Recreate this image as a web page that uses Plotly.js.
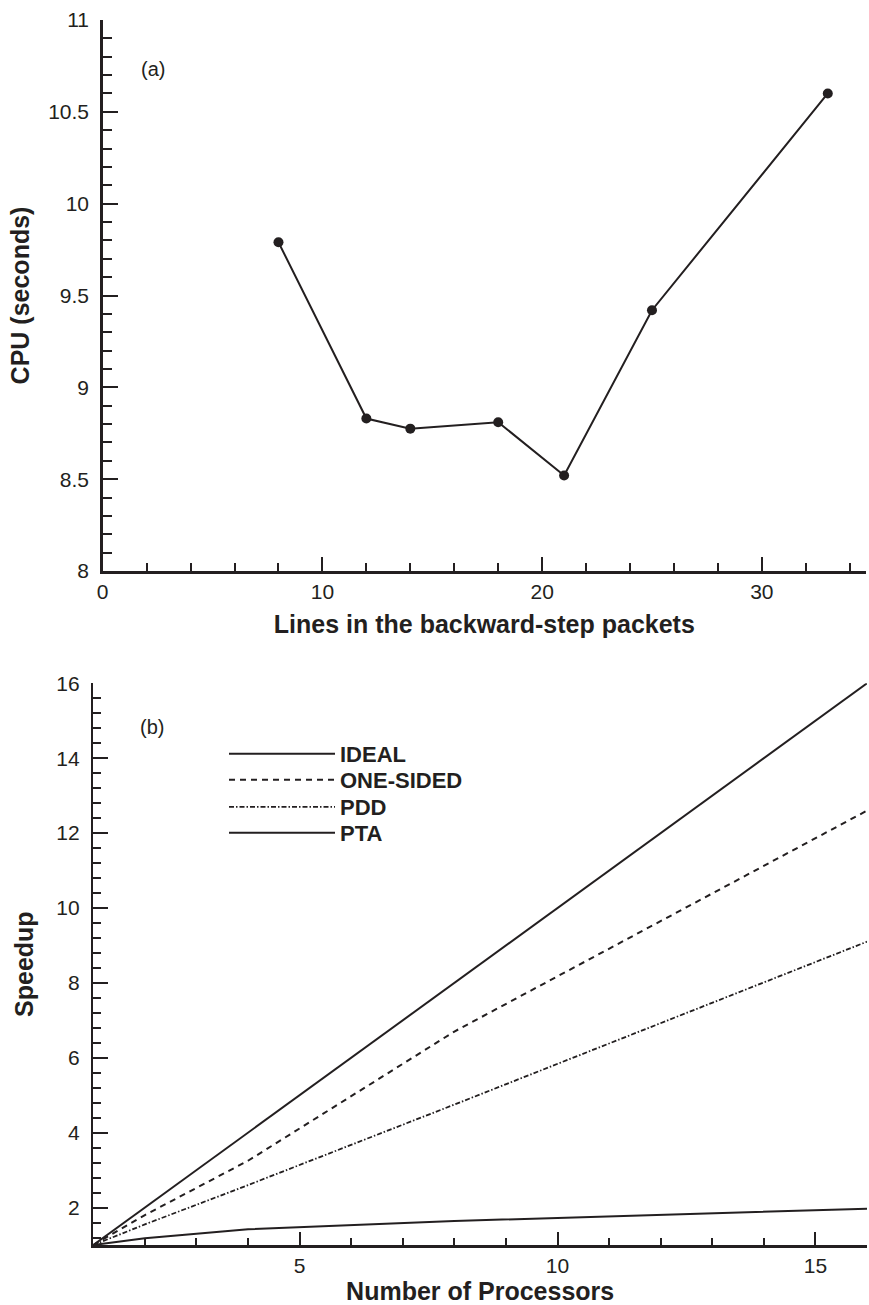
<!DOCTYPE html>
<html><head><meta charset="utf-8">
<script src="https://cdn.plot.ly/plotly-3.0.1.min.js"></script>
<style>html,body{margin:0;padding:0;background:#fff}#chart{width:869px;height:1305px}</style>
</head><body><div id="chart"></div>
<script>
// ---- Panel (a) data ----
const packetLines = [8, 12, 14, 18, 21, 25, 33];
const cpuSeconds  = [9.79, 8.83, 8.775, 8.81, 8.52, 9.42, 10.60];

// ---- Panel (b) data ----
const processors = [1, 2, 4, 8, 16];
const ideal      = [1, 2, 4, 8, 16];
const oneSided   = [1, 1.8, 3.25, 6.7, 12.6];
const pdd        = [1, 1.55, 2.6, 4.75, 9.1];
const pta        = [1, 1.18, 1.42, 1.64, 1.97];
const seriesNames = ['IDEAL', 'ONE-SIDED', 'PDD', 'PTA'];

// ---- Tick labels ----
const aXTicks = [0, 10, 20, 30];
const aXTickText = ['0', '10', '20', '30'];
const aYTicks = [8, 8.5, 9, 9.5, 10, 10.5, 11];
const aYTickText = ['8', '8.5', '9', '9.5', '10', '10.5', '11'];
const bXTicks = [5, 10, 15];
const bXTickText = ['5', '10', '15'];
const bYTicks = [2, 4, 6, 8, 10, 12, 14, 16];
const bYTickText = ['2', '4', '6', '8', '10', '12', '14', '16'];

const INK = '#231f20';
const FAM = "'Liberation Sans', Arial, Helvetica, sans-serif";
const W = 869, H = 1305;

function axis(extra, minorDtick, majLen, minLen) {
  return Object.assign({
    showline: true, linewidth: 2.5, linecolor: INK,
    ticks: 'inside', ticklen: majLen, tickwidth: 2, tickcolor: INK,
    showgrid: false, zeroline: false, mirror: false,
    tickmode: 'array', automargin: false,
    tickfont: {family: FAM, size: 21, color: INK},
    minor: {ticks: 'inside', ticklen: minLen, tickwidth: 2, tickcolor: INK, dtick: minorDtick, tick0: 0, showgrid: false}
  }, extra);
}

const traces = [
  {x: packetLines, y: cpuSeconds, xaxis: 'x', yaxis: 'y', mode: 'lines+markers',
   line: {color: INK, width: 2}, marker: {color: INK, size: 10}, showlegend: false},
  {x: processors, y: ideal, xaxis: 'x2', yaxis: 'y2', mode: 'lines', name: seriesNames[0], legend: 'legend',
   line: {color: INK, width: 2, dash: 'solid'}},
  {x: processors, y: oneSided, xaxis: 'x2', yaxis: 'y2', mode: 'lines', name: seriesNames[1], legend: 'legend2',
   line: {color: INK, width: 2, dash: '6px,5px'}},
  {x: processors, y: pdd, xaxis: 'x2', yaxis: 'y2', mode: 'lines', name: seriesNames[2], legend: 'legend3',
   line: {color: INK, width: 1.8, dash: '5px,2px,1.5px,2px'}},
  {x: processors, y: pta, xaxis: 'x2', yaxis: 'y2', mode: 'lines', name: seriesNames[3], legend: 'legend4',
   line: {color: INK, width: 2, dash: 'solid'}}
];

const titleFont = {family: FAM, size: 25, color: INK, weight: 700};

function legendAt(rowCenterPx) {
  return {
    x: 224 / W, y: (H - (rowCenterPx - 20)) / H, xanchor: 'left', yanchor: 'top',
    bgcolor: 'rgba(0,0,0,0)', borderwidth: 0,
    font: {family: FAM, size: 22, color: INK, weight: 700},
    itemwidth: 106
  };
}

const layout = {
  width: W, height: H,
  margin: {l: 0, r: 0, t: 0, b: 0},
  paper_bgcolor: '#fff', plot_bgcolor: '#fff',
  font: {family: FAM, color: INK},
  xaxis: axis({domain: [102.7 / W, 866 / W], range: [0, 34.74], anchor: 'y',
    tickvals: aXTicks, ticktext: aXTickText,
    title: {text: 'Lines in the backward-step packets', font: titleFont, standoff: 14}}, 2, 14, 8),
  yaxis: axis({domain: [(H - 571) / H, (H - 20) / H], range: [8, 11], anchor: 'x',
    tickvals: aYTicks, ticktext: aYTickText, ticklabelstandoff: 7,
    title: {text: 'CPU (seconds)', font: titleFont, standoff: 12}}, 0.1, 15, 9),
  xaxis2: axis({domain: [93.3 / W, 867 / W], range: [1, 16], anchor: 'y2',
    tickvals: bXTicks, ticktext: bXTickText,
    title: {text: 'Number of Processors', font: titleFont, standoff: 14}}, 1, 13, 7),
  yaxis2: axis({domain: [(H - 1245) / H, (H - 683.3) / H], range: [1, 16], anchor: 'x2',
    tickvals: bYTicks, ticktext: bYTickText, ticklabelstandoff: 7,
    title: {text: 'Speedup', font: titleFont, standoff: 16}}, 0.4, 15, 8),
  showlegend: true,
  legend: legendAt(753),
  legend2: legendAt(779),
  legend3: legendAt(806),
  legend4: legendAt(832),
  annotations: [
    {text: '(a)', xref: 'paper', yref: 'paper', x: 153 / W, y: (H - 69) / H,
     xanchor: 'center', yanchor: 'middle', showarrow: false, font: {family: FAM, size: 20, color: INK}},
    {text: '(b)', xref: 'paper', yref: 'paper', x: 152 / W, y: (H - 727) / H,
     xanchor: 'center', yanchor: 'middle', showarrow: false, font: {family: FAM, size: 20, color: INK}}
  ]
};

Plotly.newPlot('chart', traces, layout, {displayModeBar: false, staticPlot: true});
</script>
</body></html>
